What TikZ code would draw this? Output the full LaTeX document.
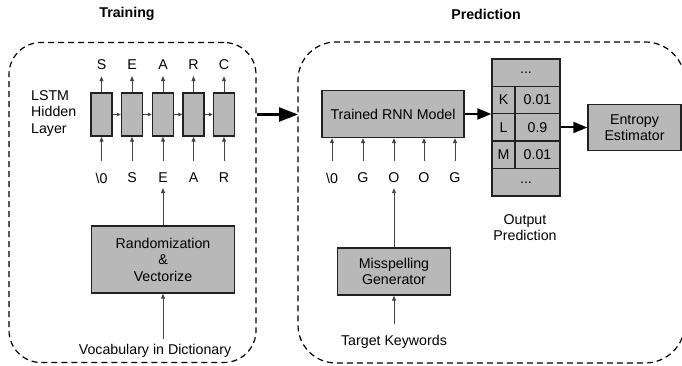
\documentclass[tikz,border=0pt]{standalone}
\usepackage{fontspec}
\setmainfont{Liberation Sans}
\usetikzlibrary{arrows.meta}
\definecolor{boxfill}{HTML}{B8B8B8}
\definecolor{ink}{HTML}{222222}
\definecolor{thinink}{HTML}{444444}
\begin{document}
\begin{tikzpicture}[x=1pt,y=-1pt, font=\fontsize{14.2}{16.5}\selectfont,
  gbox/.style={draw=ink, line width=1.4pt, fill=boxfill, inner sep=0pt, align=center},
  cell/.style={gbox, minimum width=21pt, minimum height=43pt},
  lbl/.style={inner sep=0pt},
  thin/.style={draw=thinink, line width=0.85pt, -{Triangle[length=5pt,width=4pt]}},
  tiny/.style={draw=thinink, line width=0.85pt, -{Triangle[length=4pt,width=3.5pt]}},
  mid/.style={draw=black, line width=2pt, -{Triangle[length=14pt,width=11pt]}},
  big/.style={draw=black, line width=2.5pt, -{Triangle[length=19pt,width=14pt]}},
  region/.style={draw=black, line width=1.2pt, dash pattern=on 6pt off 4pt},
  title/.style={font=\fontsize{14.2}{16}\selectfont\bfseries}
]
\useasboundingbox (0,0) rectangle (682,366);
\clip (0,0) rectangle (682,366);

% regions
\node[region, rounded corners=32pt, inner sep=0pt, minimum width=247pt, minimum height=320pt] (train) at (132.5,202.5) {};
\coordinate (predW) at (298,202.5);
\draw[region] (predW) -- (298,80) arc[start angle=180,end angle=270,radius=38]
  -- (645,42) arc[start angle=270,end angle=360,radius=40]
  -- (685,323) arc[start angle=0,end angle=90,radius=40]
  -- (336,363) arc[start angle=90,end angle=180,radius=38] -- cycle;
\node[title] (ttrain) at (127,14) {Training};
\node[title] (tpred) at (486,14) {Prediction};

% LSTM cells
\node[cell] (c1) at (101.5,114.5) {};
\node[cell] (c2) at (132,114.5) {};
\node[cell] (c3) at (163,114.5) {};
\node[cell] (c4) at (193.5,114.5) {};
\node[cell] (c5) at (224,114.5) {};
\draw[tiny] (c1) -- (c2);
\draw[tiny] (c2) -- (c3);
\draw[tiny] (c3) -- (c4);
\draw[tiny] (c4) -- (c5);

\node[lbl, anchor=west, align=left] (lstm) at (31,113.5) {LSTM\\Hidden\\Layer};

% outputs
\node[lbl] (o1) at (101.5,65) {S};
\node[lbl] (o2) at (132,65) {E};
\node[lbl] (o3) at (163,65) {A};
\node[lbl] (o4) at (193.5,65) {R};
\node[lbl] (o5) at (224,65) {C};
\foreach \i in {1,...,5} {\draw[thin, shorten >=6pt] (c\i) -- (o\i);}

% inputs
\node[lbl] (i1) at (101.5,178) {\textbackslash0};
\node[lbl] (i2) at (132,178) {S};
\node[lbl] (i3) at (163,178) {E};
\node[lbl] (i4) at (193.5,178) {A};
\node[lbl] (i5) at (224,178) {R};
\foreach \i in {1,...,5} {\draw[thin, shorten <=12pt] (i\i) -- (c\i);}

% randomization
\node[gbox, minimum width=143pt, minimum height=67pt] (rand) at (163,259.5) {Randomization\\\&\\Vectorize};
\draw[thin, shorten >=5pt] (rand) -- (i3);
\node[lbl] (voc) at (155,351) {Vocabulary in Dictionary};
\draw[thin, shorten <=12pt] (voc.center -| rand.south) -- (rand.south);

% big arrow between regions
\draw[big] (c5 -| train.east) -- (c5 -| predW);

% RNN model
\node[gbox, minimum width=142pt, minimum height=47pt] (rnn) at (393,114) {Trained RNN Model};
\node[lbl] (j1) at (332,178) {\textbackslash0};
\node[lbl] (j2) at (363,178) {G};
\node[lbl] (j3) at (394,178) {O};
\node[lbl] (j4) at (424,178) {O};
\node[lbl] (j5) at (455,178) {G};
\foreach \i in {1,...,5} {\draw[thin, shorten <=12pt] (j\i) -- (j\i |- rnn.south);}

% misspelling
\node[gbox, minimum width=113pt, minimum height=47pt] (mis) at (394,271.5) {Misspelling\\Generator};
\draw[thin, shorten >=5pt] (mis) -- (j3);
\node[lbl] (tk) at (394,342) {Target Keywords};
\draw[thin, shorten <=11pt] (tk) -- (mis);

% output table
\node[gbox, minimum width=68pt, minimum height=27.4pt] (td1) at (526,72.7) {...};
\node[gbox, minimum width=23pt, minimum height=27.4pt] (kL) at (503.5,100.1) {K};
\node[gbox, minimum width=45pt, minimum height=27.4pt] (kV) at (537.5,100.1) {0.01};
\node[gbox, minimum width=23pt, minimum height=27.4pt] (lL) at (503.5,127.5) {L};
\node[gbox, minimum width=45pt, minimum height=27.4pt] (lV) at (537.5,127.5) {0.9};
\node[gbox, minimum width=23pt, minimum height=27.4pt] (mL) at (503.5,154.9) {M};
\node[gbox, minimum width=45pt, minimum height=27.4pt] (mV) at (537.5,154.9) {0.01};
\node[gbox, minimum width=68pt, minimum height=27.4pt] (td2) at (526,182.3) {...};
\node[lbl, align=center] (outp) at (525,227.5) {Output\\Prediction};

\draw[mid] (rnn.east) -- (rnn.east -| kL.west);

% entropy
\node[gbox, minimum width=93pt, minimum height=46pt] (ent) at (634.5,127.5) {Entropy\\Estimator};
\draw[mid] (lV) -- (ent);
\end{tikzpicture}
\end{document}
